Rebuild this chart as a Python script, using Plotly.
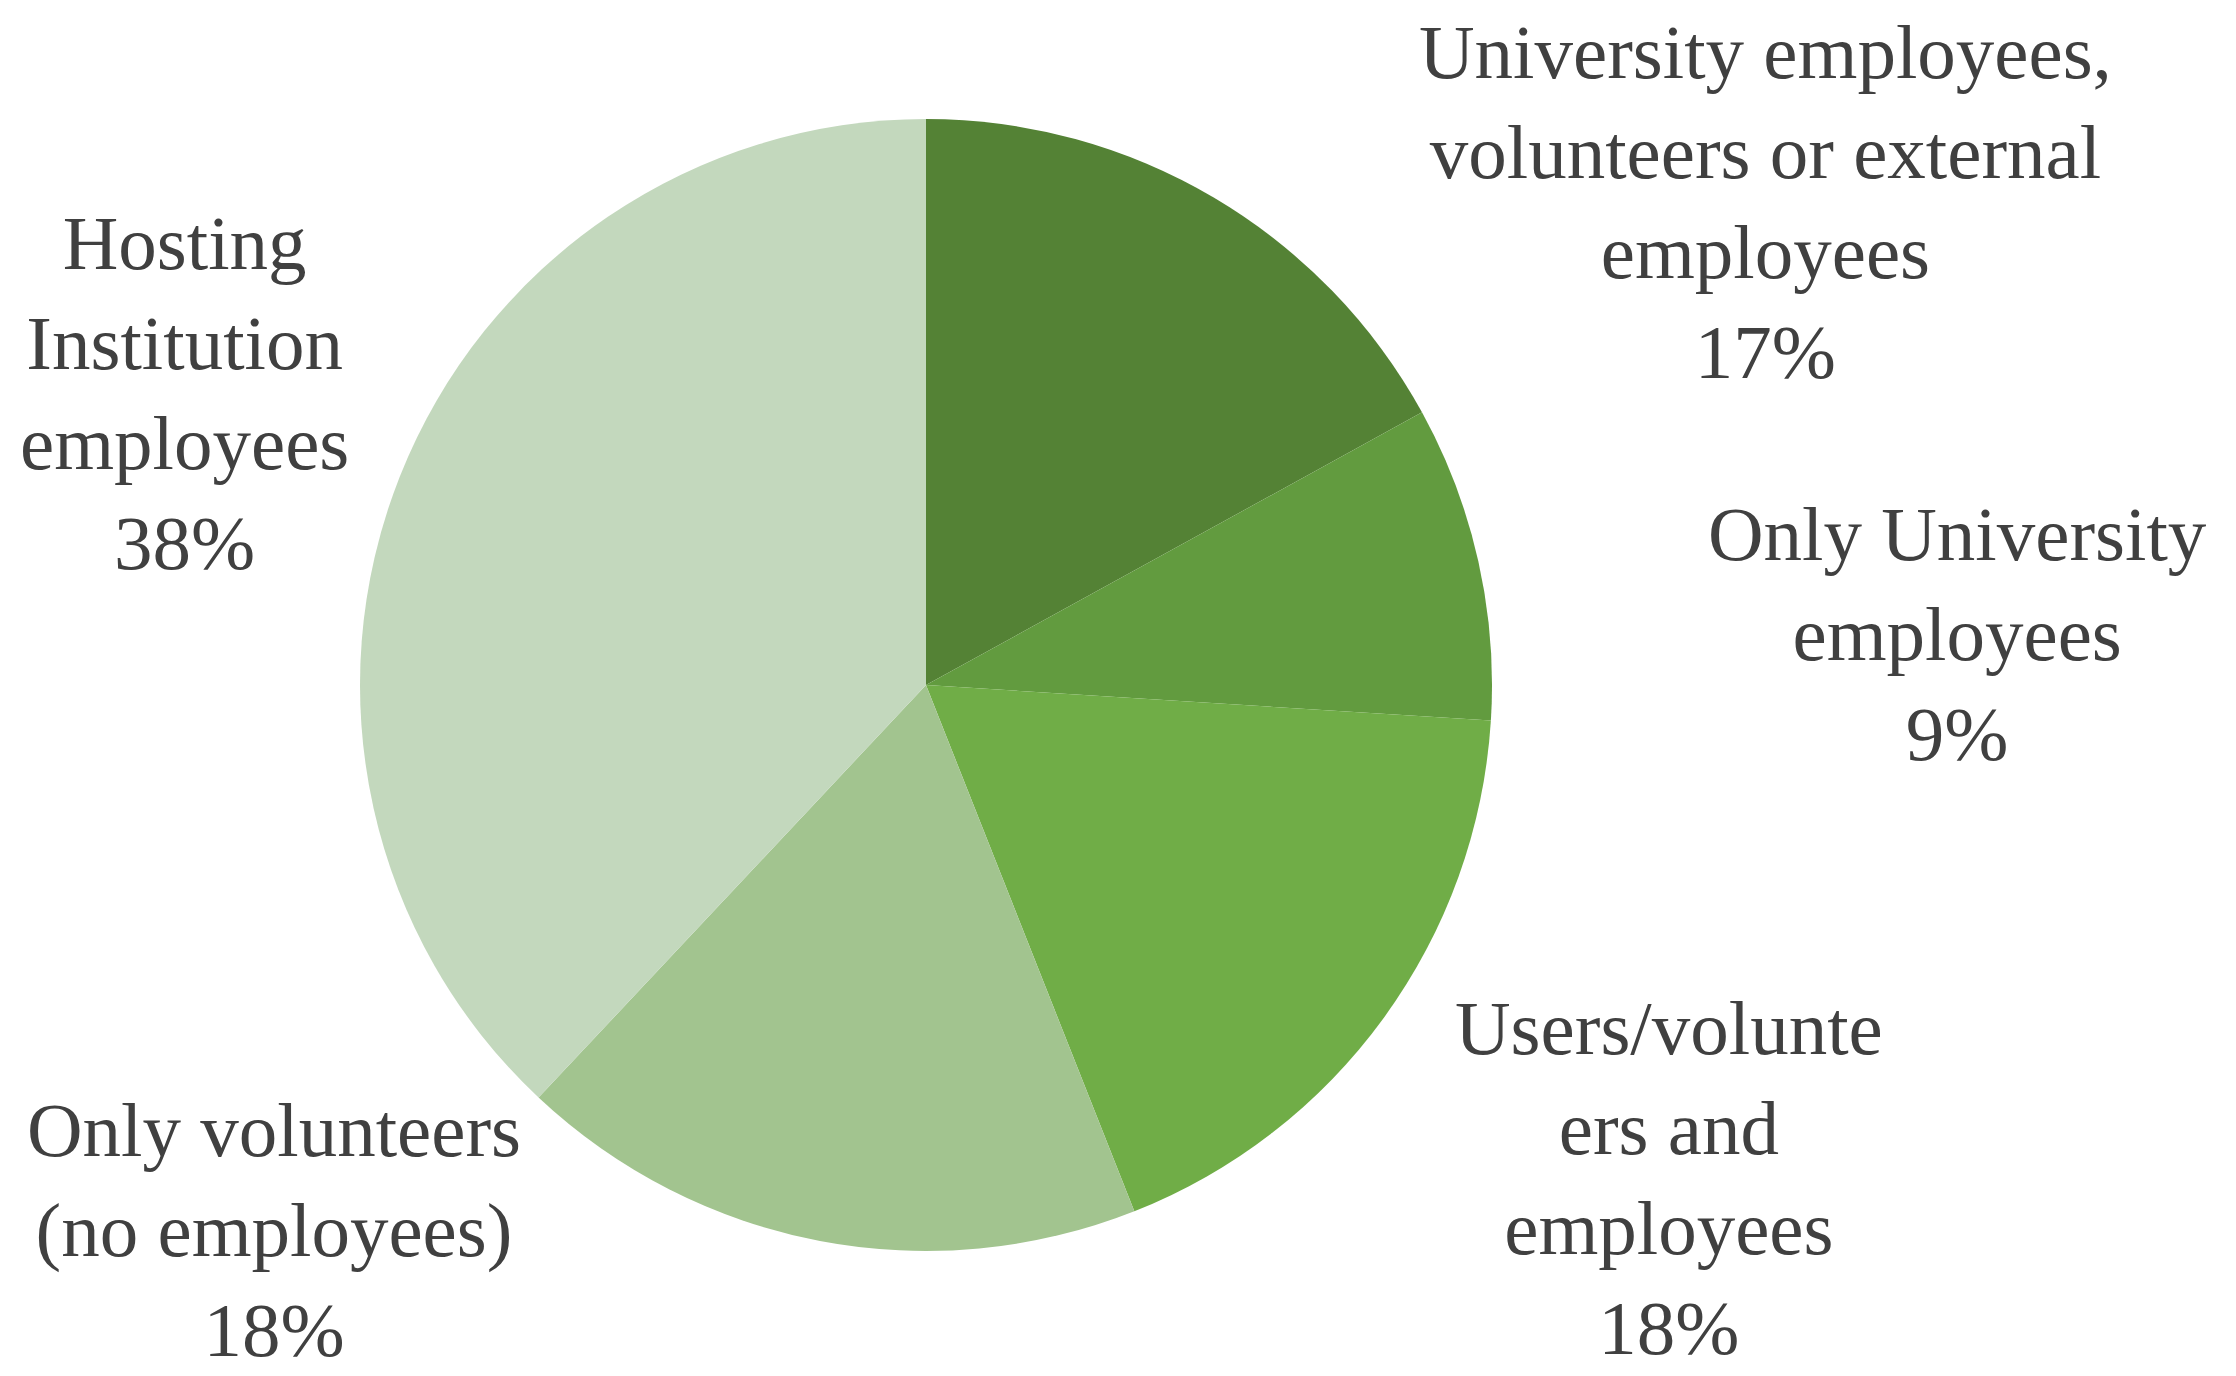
import plotly.graph_objects as go

categories = [
    "University employees,<br>volunteers or external<br>employees",
    "Only University<br>employees",
    "Users/volunte<br>ers and<br>employees",
    "Only volunteers<br>(no employees)",
    "Hosting<br>Institution<br>employees",
]
values = [17, 9, 18, 18, 38]
colors = ["#548235", "#629B3F", "#70AD47", "#A2C48F", "#C3D8BD"]

# label anchor positions (paper coords, centers of text blocks)
label_x = [0.786, 0.872, 0.743, 0.119, 0.079]
label_y = [0.859, 0.545, 0.150, 0.112, 0.720]

W, H = 2236, 1376
cx, cy, r = 918, 677, 566

fig = go.Figure(go.Pie(
    labels=categories,
    values=values,
    sort=False,
    direction="clockwise",
    rotation=0,
    marker=dict(colors=colors, line=dict(width=0)),
    textinfo="none",
    hoverinfo="label+percent",
    showlegend=False,
    domain=dict(x=[(cx - r) / W, (cx + r) / W],
                y=[(H - cy - r) / H, (H - cy + r) / H]),
))

total = sum(values)
for lab, v, x, y in zip(categories, values, label_x, label_y):
    fig.add_annotation(
        x=x, y=y, xref="paper", yref="paper",
        text=f"{lab}<br>{round(100 * v / total)}%",
        showarrow=False, align="center",
        xanchor="center", yanchor="middle",
        font=dict(family="Liberation Serif", size=77, color="#404040"),
    )

fig.update_layout(
    width=W, height=H,
    margin=dict(l=0, r=0, t=0, b=0),
    paper_bgcolor="white", plot_bgcolor="white",
)
fig.write_html("out.html")
